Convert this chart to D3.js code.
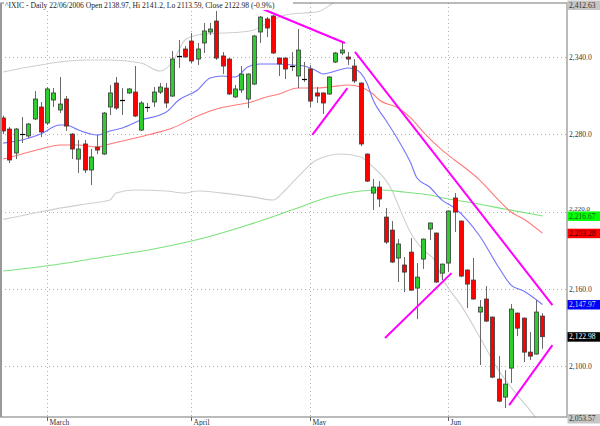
<!DOCTYPE html>
<html><head><meta charset="utf-8">
<script src="https://cdn.jsdelivr.net/npm/d3@7/dist/d3.min.js"></script>
<style>body{margin:0;background:#fff}svg{display:block}</style>
</head><body><svg id="c" width="600" height="426"></svg>
<script>
// ---- DATA ----
const dates = [
"2006-02-17","2006-02-21","2006-02-22","2006-02-23","2006-02-24","2006-02-27","2006-02-28",
"2006-03-01","2006-03-02","2006-03-03","2006-03-06","2006-03-07","2006-03-08","2006-03-09","2006-03-10",
"2006-03-13","2006-03-14","2006-03-15","2006-03-16","2006-03-17","2006-03-20","2006-03-21","2006-03-22",
"2006-03-23","2006-03-24","2006-03-27","2006-03-28","2006-03-29","2006-03-30","2006-03-31",
"2006-04-03","2006-04-04","2006-04-05","2006-04-06","2006-04-07","2006-04-10","2006-04-11","2006-04-12",
"2006-04-13","2006-04-17","2006-04-18","2006-04-19","2006-04-20","2006-04-21","2006-04-24","2006-04-25",
"2006-04-26","2006-04-27","2006-04-28",
"2006-05-01","2006-05-02","2006-05-03","2006-05-04","2006-05-05","2006-05-08","2006-05-09","2006-05-10",
"2006-05-11","2006-05-12","2006-05-15","2006-05-16","2006-05-17","2006-05-18","2006-05-19","2006-05-22",
"2006-05-23","2006-05-24","2006-05-25","2006-05-26","2006-05-30","2006-05-31",
"2006-06-01","2006-06-02","2006-06-05","2006-06-06","2006-06-07","2006-06-08","2006-06-09","2006-06-12",
"2006-06-13","2006-06-14","2006-06-15","2006-06-16","2006-06-19","2006-06-20","2006-06-21","2006-06-22"];

const opens = [2292.7,2284.1,2265.5,2280.2,2278.7,2291.9,2301.2,2288.8,2306.6,2298.9,2307.4,2280.2,2260.8,2272.5,2252.3,2270.1,2264.7,2301.2,2319.8,2306.6,2312.1,2312.8,2283.3,2301.2,2305.1,2312.8,2315.9,2309.7,2340.8,2346.2,2352.4,2338.4,2350.9,2359.4,2367.9,2340.8,2338.4,2309.0,2314.4,2307.4,2319.0,2359.4,2369.5,2371.8,2339.2,2339.2,2333.0,2325.3,2323.3,2330.7,2312.1,2312.1,2311.3,2336.1,2343.1,2340.0,2333.0,2319.8,2264.7,2234.4,2239.1,2215.8,2205.7,2184.0,2178.6,2188.6,2160.7,2183.2,2206.5,2203.4,2172.3,2180.1,2230.6,2212.7,2174.7,2166.9,2142.1,2152.2,2138.2,2090.1,2076.1,2098.6,2141.3,2137.4,2111.0,2109.5,2138.97];
const highs = [2294.5,2285.7,2284.9,2293.4,2288.8,2313.6,2305.1,2316.7,2315.9,2324.5,2309.7,2280.9,2275.6,2275.6,2268.6,2279.5,2297.3,2318.3,2324.5,2315.9,2315.9,2333.0,2305.8,2304.3,2316.7,2319.8,2319.8,2344.7,2353.2,2348.5,2358.6,2350.9,2366.4,2366.4,2375.7,2343.9,2339.2,2318.3,2333.0,2327.2,2357.1,2371.8,2371.0,2372.6,2339.6,2339.6,2343.9,2361.7,2336.1,2333.8,2316.7,2312.5,2324.9,2343.9,2350.9,2343.9,2338.4,2320.2,2265.1,2245.3,2243.7,2222.8,2212.7,2198.7,2184.8,2199.5,2180.1,2199.1,2211.6,2203.8,2179.7,2220.9,2234.4,2213.1,2175.1,2184.0,2151.4,2162.2,2138.6,2107.9,2097.0,2148.3,2141.7,2137.8,2126.5,2151.4,2141.2];
const lows = [2280.2,2257.7,2260.8,2273.2,2277.1,2291.1,2277.9,2287.2,2301.2,2296.5,2282.6,2260.8,2250.0,2250.0,2240.6,2264.7,2264.0,2295.0,2298.9,2295.0,2311.3,2293.4,2282.6,2297.3,2301.2,2311.3,2300.4,2309.0,2331.5,2339.6,2335.3,2333.8,2343.1,2357.1,2337.7,2326.8,2310.5,2308.2,2312.1,2300.4,2318.3,2350.9,2355.5,2342.3,2325.3,2322.9,2329.1,2315.9,2320.6,2301.2,2304.3,2295.8,2310.5,2335.3,2341.6,2333.8,2319.8,2270.9,2243.0,2221.2,2223.6,2194.9,2180.1,2165.4,2157.6,2158.7,2136.6,2175.5,2198.0,2164.6,2166.9,2173.1,2204.2,2169.2,2145.2,2151.8,2101.0,2134.3,2090.8,2072.2,2067.6,2087.0,2123.4,2103.3,2104.8,2109.1,2113.59];
const closes = [2282.6,2260.1,2284.1,2280.2,2288.0,2307.4,2281.8,2315.2,2312.1,2303.5,2286.4,2268.6,2268.6,2252.3,2262.4,2267.8,2296.5,2312.1,2300.4,2306.6,2315.2,2294.2,2304.3,2301.2,2312.8,2316.7,2304.3,2338.4,2340.8,2340.0,2336.9,2346.2,2360.2,2361.7,2339.2,2333.0,2311.3,2315.2,2326.8,2326.8,2356.3,2371.0,2362.5,2343.1,2334.6,2330.7,2333.0,2345.4,2323.3,2305.8,2309.7,2304.3,2324.5,2343.1,2345.4,2338.4,2321.4,2272.5,2243.7,2239.1,2229.8,2196.4,2180.9,2194.9,2173.1,2159.1,2169.2,2198.7,2211.2,2165.4,2179.3,2220.5,2219.7,2170.0,2163.8,2152.2,2145.9,2135.1,2091.6,2073.0,2086.2,2144.4,2129.6,2111.0,2107.9,2142.1,2122.98];

// indicator lines: [candle index, value]
const maShort = [[0,2273.2],[3,2275.6],[6,2280.2],[9,2287.2],[10,2287.2],[12,2283.3],[15,2279.5],[17,2282.6],[19,2284.9],[22,2291.1],[25,2295.0],[26,2297.3],[28,2306.6],[31,2314.4],[33,2323.7],[35,2325.3],[37,2324.5],[39,2332.2],[41,2334.6],[44,2334.6],[46,2333.8],[48,2333.0],[50,2329.1],[51,2326.8],[53,2329.1],[55,2331.5],[56,2330.7],[57,2327.6],[58,2319.8],[59,2306.6],[61,2291.1],[63,2275.6],[65,2257.7],[66,2246.1],[68,2239.1],[70,2229.0],[72,2222.8],[74,2213.5],[76,2201.1],[79,2177.0],[81,2163.0],[83,2158.4],[86,2147.97]];
const maMid = [[0,2260.8],[3,2264.7],[6,2268.6],[9,2271.7],[12,2271.7],[15,2270.1],[17,2272.5],[19,2274.8],[23,2279.5],[27,2284.9],[31,2294.2],[34,2299.6],[37,2302.7],[39,2304.3],[42,2309.0],[44,2311.3],[47,2315.9],[50,2315.9],[52,2316.7],[55,2318.3],[57,2316.7],[59,2311.3],[60,2306.6],[63,2300.4],[65,2292.7],[67,2281.8],[70,2267.8],[72,2260.1],[76,2244.5],[79,2229.0],[81,2219.7],[83,2214.3],[86,2203.28]];
const maLong = [[0,2173.9],[8,2178.6],[16,2184.8],[24,2191.0],[32,2199.5],[39,2209.6],[46,2221.2],[52,2231.3],[57,2236.0],[60,2236.8],[64,2235.2],[68,2232.9],[71,2229.8],[75,2226.7],[80,2222.0],[86,2216.67]];
const bandUpper = [[0,2328.4],[5,2333.0],[9,2336.1],[13,2337.7],[17,2337.7],[22,2335.3],[25,2329.1],[27,2336.1],[29,2353.2],[31,2357.1],[35,2358.6],[38,2359.4],[40,2361.0],[43,2368.7],[45,2372.6],[48,2374.2],[50,2374.9],[53,2382.7],[56,2388.1],[60,2398],[66,2406],[74,2410],[86,2412.63]];
const bandLower = [[0,2214.0],[5,2219.0],[10,2223.5],[14,2226.5],[17,2229.0],[18,2234.4],[21,2236.8],[26,2236.0],[29,2234.4],[31,2236.0],[35,2234.4],[40,2231.3],[43,2229.0],[45,2236.8],[47,2246.9],[50,2260.1],[54,2264.7],[57,2262.4],[59,2254.6],[61,2244.5],[62,2236.8],[63,2225.1],[65,2203.4],[67,2190.2],[69,2180.9],[70,2168.5],[71,2160.7],[73,2147.5],[76,2122.7],[79,2097.0],[82,2077.6],[84,2066.0],[86,2053.57]];
const trendLines = [
  [[41.0,2378.0],[54.5,2350.9]],
  [[49.3,2279.5],[54.9,2315.9]],
  [[56.1,2343.9],[87.6,2147.5]],
  [[60.9,2121.9],[71.5,2172.3]],
  [[80.7,2069.9],[87.6,2116.4]]
];
const yTicks = [2100, 2160, 2220, 2280, 2340];
const monthStarts = ["2006-03-01","2006-04-03","2006-05-01","2006-06-01"];
const monthLabels = ["March","April","May","Jun"];
const lastValues = [2412.63, 2216.67, 2203.28, 2147.97, 2122.98, 2053.57];
const lastNames = ["upper band","long MA","mid MA","short MA","close","lower band"];
const title = "^IXIC - Daily 22/06/2006 Open 2138.97, Hi 2141.2, Lo 2113.59, Close 2122.98 (-0.9%)";

// ---- CHART ----
const svg = d3.select("#c");
const L = 1, R = 567, T = 3, B = 417;
const x = d3.scaleLinear().domain([0, dates.length - 1]).range([3.2, 542.4]);
const y = d3.scaleLinear().domain([2100, 2340]).range([366.3, 57]);
const font = "'Liberation Serif','Times New Roman',serif";

svg.append("rect").attr("width",600).attr("height",426).attr("fill","#fff");
svg.append("clipPath").attr("id","clip").append("rect")
  .attr("x",L).attr("y",T).attr("width",R-L).attr("height",B-T);

// grid
const grid = svg.append("g").attr("stroke","#b0b0b0").attr("stroke-dasharray","1,3");
grid.selectAll("line.h").data(yTicks).join("line")
  .attr("x1",L).attr("x2",R).attr("y1",d=>Math.round(y(d))+0.5).attr("y2",d=>Math.round(y(d))+0.5);
const mIdx = monthStarts.map(d => dates.indexOf(d));
grid.selectAll("line.v").data(mIdx).join("line")
  .attr("y1",T).attr("y2",B).attr("x1",d=>Math.round(x(d))+0.5).attr("x2",d=>Math.round(x(d))+0.5);

const plot = svg.append("g").attr("clip-path","url(#clip)");
const line = d3.line().x(d=>x(d[0])).y(d=>y(d[1])).curve(d3.curveMonotoneX);
[[bandUpper,"#cfcfcf"],[bandLower,"#cfcfcf"],[maLong,"#7de27d"],[maMid,"#ff7a7a"],[maShort,"#7373ff"]].forEach(([data,col])=>{
  plot.append("path").datum(data).attr("d",line).attr("fill","none").attr("stroke",col).attr("stroke-width",1.1);
});

// candles
const idx = d3.range(dates.length);
const cg = plot.append("g");
cg.selectAll("line.w").data(idx).join("line")
  .attr("x1",i=>Math.round(x(i))+0.5).attr("x2",i=>Math.round(x(i))+0.5)
  .attr("y1",i=>y(highs[i])).attr("y2",i=>y(lows[i]))
  .attr("stroke","#6a6a6a").attr("stroke-width",1);
const bodies = idx.filter(i => opens[i] !== closes[i]);
cg.selectAll("rect.b").data(bodies).join("rect")
  .attr("x",i=>Math.round(x(i))-1.5).attr("width",4)
  .attr("y",i=>y(Math.max(opens[i],closes[i])))
  .attr("height",i=>Math.max(1, Math.abs(y(opens[i])-y(closes[i]))))
  .attr("fill",i=>closes[i]>opens[i] ? "#2ecc2e" : "#ff0000")
  .attr("stroke","#3a3a3a").attr("stroke-width",0.8);
const dojis = idx.filter(i => opens[i] === closes[i]);
cg.selectAll("line.d").data(dojis).join("line")
  .attr("x1",i=>Math.round(x(i))-2).attr("x2",i=>Math.round(x(i))+3)
  .attr("y1",i=>Math.round(y(opens[i]))+0.5).attr("y2",i=>Math.round(y(opens[i]))+0.5)
  .attr("stroke","#000").attr("stroke-width",1.2);

// trend lines
plot.selectAll("path.t").data(trendLines).join("path")
  .attr("d",d3.line().x(d=>x(d[0])).y(d=>y(d[1])))
  .attr("stroke","#ff00ff").attr("stroke-width",2).attr("fill","none");

// frame
svg.append("rect").attr("x",L).attr("y",T).attr("width",R-L).attr("height",B-T)
  .attr("fill","none").attr("stroke","#8c8c8c").attr("stroke-width",1.2);
svg.append("line").attr("x1",1).attr("x2",1).attr("y1",T).attr("y2",B)
  .attr("stroke","#999").attr("stroke-width",2);

// title
svg.append("rect").attr("x",4).attr("y",0).attr("width",289).attr("height",10).attr("fill","#fff");
svg.append("text").attr("x",5).attr("y",8).text(title)
  .attr("font-family",font).attr("font-size",7.6).attr("fill","#222");

// last value boxes
const boxBg = ["#c6c6c6","#00ff00","#ff0000","#0000ff","#000000","#c6c6c6"];
const boxFg = ["#333","#225522","#330000","#dddddd","#ffffff","#333"];
const lg = svg.append("g");
lastValues.forEach((v,k)=>{
  const cy = Math.max(5, Math.min(418.5, y(v)));
  lg.append("rect").attr("x",567.5).attr("y",cy-4.5).attr("width",32.5).attr("height",9.5).attr("fill",boxBg[k]);
  lg.append("text").attr("x",569).attr("y",cy+2.6).text(d3.format(",.2f")(v))
    .attr("font-family",font).attr("font-size",7.6).attr("fill",boxFg[k]);
});

// right axis tick labels (the 2,220.0 one sits just above the green box, as in the reference)
svg.selectAll("text.yt").data(yTicks).join("text")
  .attr("x",569).attr("y",d=>d===2220 ? y(d) - 0.8 : y(d) + 2.6)
  .text(d=>d3.format(",.1f")(d))
  .attr("font-family",font).attr("font-size",d=>d===2220 ? 7 : 7.6).attr("fill","#333");

// x axis month labels
const xa = svg.append("g");
mIdx.forEach((i,k)=>{
  const xx = Math.round(x(i))+0.5;
  xa.append("line").attr("x1",xx).attr("x2",xx).attr("y1",B).attr("y2",B+4).attr("stroke","#666");
  xa.append("text").attr("x",xx+2).attr("y",425).text(monthLabels[k])
    .attr("font-family",font).attr("font-size",7.6).attr("fill","#333");
});
</script></body></html>
